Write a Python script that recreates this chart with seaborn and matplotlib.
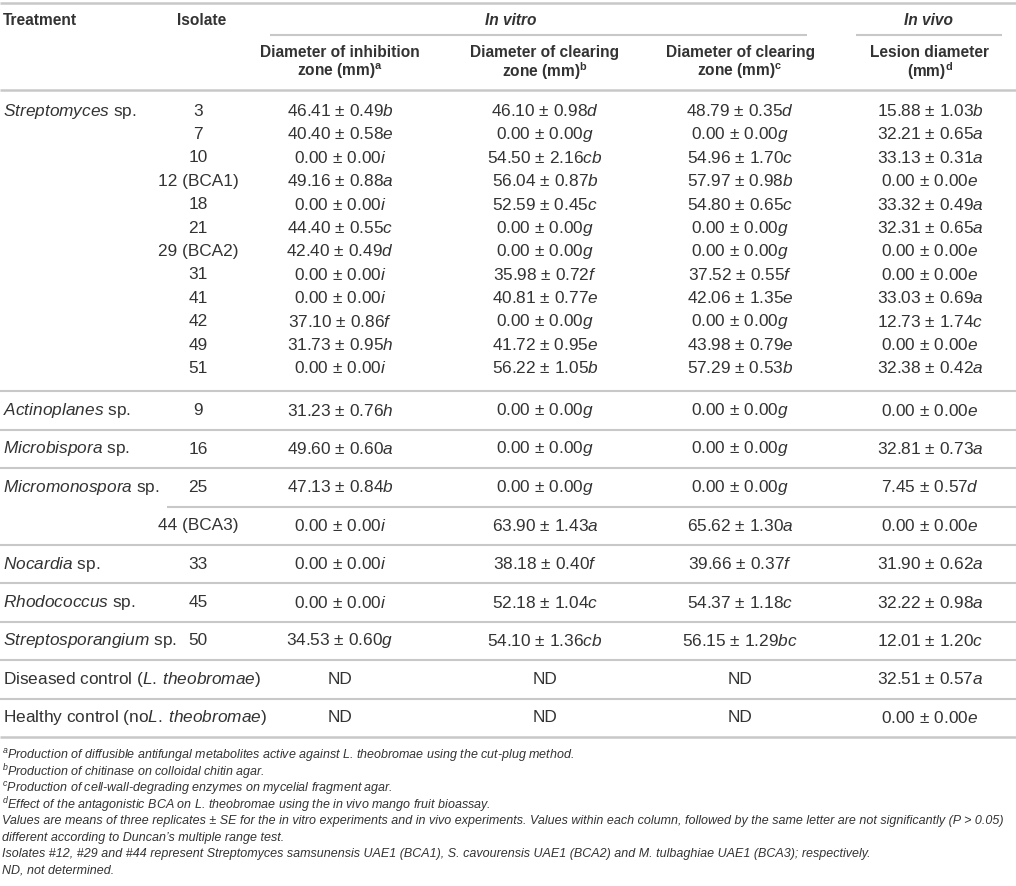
import matplotlib
matplotlib.use("Agg")
import matplotlib.pyplot as plt
import seaborn as sns

sns.set_theme(style="white")
plt.rcParams['font.family'] = ['Liberation Sans', 'DejaVu Sans']
plt.rcParams['mathtext.fontset'] = 'custom'
plt.rcParams['mathtext.rm'] = 'Liberation Sans'
plt.rcParams['mathtext.it'] = 'Liberation Sans:italic'
plt.rcParams['mathtext.bf'] = 'Liberation Sans:bold'

# ---------------- data ----------------
genera = ["Streptomyces", "Actinoplanes", "Microbispora", "Micromonospora",
          "Nocardia", "Rhodococcus", "Streptosporangium"]
genus_isolates = [
    ["3", "7", "10", "12 (BCA1)", "18", "21", "29 (BCA2)", "31", "41", "42", "49", "51"],
    ["9"], ["16"], ["25", "44 (BCA3)"], ["33"], ["45"], ["50"],
]
controls = ["Diseased control (L. theobromae)", "Healthy control (noL. theobromae)"]

inhib_mean = [46.41, 40.40, 0.00, 49.16, 0.00, 44.40, 42.40, 0.00, 0.00, 37.10, 31.73, 0.00,
              31.23, 49.60, 47.13, 0.00, 0.00, 0.00, 34.53, None, None]
inhib_se = [0.49, 0.58, 0.00, 0.88, 0.00, 0.55, 0.49, 0.00, 0.00, 0.86, 0.95, 0.00,
            0.76, 0.60, 0.84, 0.00, 0.00, 0.00, 0.60, None, None]
inhib_letter = ["b", "e", "i", "a", "i", "c", "d", "i", "i", "f", "h", "i",
                "h", "a", "b", "i", "i", "i", "g", None, None]

chit_mean = [46.10, 0.00, 54.50, 56.04, 52.59, 0.00, 0.00, 35.98, 40.81, 0.00, 41.72, 56.22,
             0.00, 0.00, 0.00, 63.90, 38.18, 52.18, 54.10, None, None]
chit_se = [0.98, 0.00, 2.16, 0.87, 0.45, 0.00, 0.00, 0.72, 0.77, 0.00, 0.95, 1.05,
           0.00, 0.00, 0.00, 1.43, 0.40, 1.04, 1.36, None, None]
chit_letter = ["d", "g", "cb", "b", "c", "g", "g", "f", "e", "g", "e", "b",
               "g", "g", "g", "a", "f", "c", "cb", None, None]

cwde_mean = [48.79, 0.00, 54.96, 57.97, 54.80, 0.00, 0.00, 37.52, 42.06, 0.00, 43.98, 57.29,
             0.00, 0.00, 0.00, 65.62, 39.66, 54.37, 56.15, None, None]
cwde_se = [0.35, 0.00, 1.70, 0.98, 0.65, 0.00, 0.00, 0.55, 1.35, 0.00, 0.79, 0.53,
           0.00, 0.00, 0.00, 1.30, 0.37, 1.18, 1.29, None, None]
cwde_letter = ["d", "g", "c", "b", "c", "g", "g", "f", "e", "g", "e", "b",
               "g", "g", "g", "a", "f", "c", "bc", None, None]

lesion_mean = [15.88, 32.21, 33.13, 0.00, 33.32, 32.31, 0.00, 0.00, 33.03, 12.73, 0.00, 32.38,
               0.00, 32.81, 7.45, 0.00, 31.90, 32.22, 12.01, 32.51, 0.00]
lesion_se = [1.03, 0.65, 0.31, 0.00, 0.49, 0.65, 0.00, 0.00, 0.69, 1.74, 0.00, 0.42,
             0.00, 0.73, 0.57, 0.00, 0.62, 0.98, 1.20, 0.57, 0.00]
lesion_letter = ["b", "a", "a", "e", "a", "a", "e", "e", "a", "c", "e", "a",
                 "e", "a", "d", "e", "a", "a", "c", "a", "e"]

col_headers = [
    ["Diameter of inhibition", "zone (mm)", "a"],
    ["Diameter of clearing", "zone (mm)", "b"],
    ["Diameter of clearing", "zone (mm)", "c"],
    ["Lesion diameter", "(mm)", "d"],
]

footnotes = [
    ("a", "Production of diffusible antifungal metabolites active against L. theobromae using the cut-plug method."),
    ("b", "Production of chitinase on colloidal chitin agar."),
    ("c", "Production of cell-wall-degrading enzymes on mycelial fragment agar."),
    ("d", "Effect of the antagonistic BCA on L. theobromae using the in vivo mango fruit bioassay."),
    ("", "Values are means of three replicates \u00b1 SE for the in vitro experiments and in vivo experiments. Values within each column, followed by the same letter are not significantly (P > 0.05)"),
    ("", "different according to Duncan\u2019s multiple range test."),
    ("", "Isolates #12, #29 and #44 represent Streptomyces samsunensis UAE1 (BCA1), S. cavourensis UAE1 (BCA2) and M. tulbaghiae UAE1 (BCA3); respectively."),
    ("", "ND, not determined."),
]

# ---------------- layout ----------------
W, H = 1016, 886
TXT = "#333333"
RULE = "#c8c8c8"
FS = 12.4
FS_HEAD = 11.2
FS_FOOT = 9.0

x_treat = 3
x_iso = 198
x_cols = [340, 545, 740, 930]
x_invitro = 511
x_invivo = 928

y_top = 3
y_h1 = 20
y_sub = 35
y_h2a, y_h2b = 52, 71
y_hbot = 90
compact_pitch = 23.4
first_pad = 21
group_pitch = 38.4
foot_start = 756
foot_pitch = 16.3

fig = plt.figure(figsize=(W / 100, H / 100), dpi=100)
ax = fig.add_axes([0, 0, 1, 1])
ax.set_xlim(0, W)
ax.set_ylim(H, 0)
ax.axis("off")


def rule(y, x0=0, x1=W, lw=1.5):
    ax.hlines(y, x0, x1, colors=RULE, linewidth=lw)


def cell(mean, se, letter):
    if mean is None:
        return "ND"
    return f"{mean:.2f} \u00b1 {se:.2f}" + r"$\mathit{" + letter + "}$"


# header
rule(y_top, lw=1.8)
ax.text(x_treat, y_h1, "Treatment", fontsize=FS_HEAD, fontweight="bold", color=TXT, va="center", ha="left")
ax.text(x_iso + 4, y_h1, "Isolate", fontsize=FS_HEAD, fontweight="bold", color=TXT, va="center", ha="center")
ax.text(x_invitro, y_h1, "In vitro", fontsize=FS_HEAD, fontweight="bold", style="italic", color=TXT, va="center", ha="center")
ax.text(x_invivo, y_h1, "In vivo", fontsize=FS_HEAD, fontweight="bold", style="italic", color=TXT, va="center", ha="center")
rule(y_sub, 270, 807)
rule(y_sub, 856, 1002)
for xc, (l1, l2, sup) in zip(x_cols, col_headers):
    ax.text(xc, y_h2a, l1, fontsize=FS_HEAD, fontweight="bold", color=TXT, va="center", ha="center")
    ax.text(xc, y_h2b, l2 + r"$^{\mathbf{" + sup + "}}$", fontsize=FS_HEAD, fontweight="bold",
            color=TXT, va="center", ha="center")
rule(y_hbot, lw=1.8)

# body
columns = [(inhib_mean, inhib_se, inhib_letter), (chit_mean, chit_se, chit_letter),
           (cwde_mean, cwde_se, cwde_letter), (lesion_mean, lesion_se, lesion_letter)]


def draw_values(idx, y):
    for xc, (m, s, l) in zip(x_cols, columns):
        ax.text(xc, y, cell(m[idx], s[idx], l[idx]), fontsize=FS, color=TXT, va="center", ha="center")


def italic_words(name):
    return r"$\mathit{" + name.replace(" ", r"}\:\mathit{") + "}$"


idx = 0
y_line = y_hbot
for gi, (genus, isos) in enumerate(zip(genera, genus_isolates)):
    if len(isos) > 2:  # compact group without inner rules
        for k, iso in enumerate(isos):
            y = y_line + first_pad + k * compact_pitch
            if k == 0:
                ax.text(x_treat, y, italic_words(genus) + " sp.", fontsize=FS, color=TXT, va="center", ha="left")
            ax.text(x_iso, y, iso, fontsize=FS, color=TXT, va="center", ha="center")
            draw_values(idx, y)
            idx += 1
        y_line = y + 23
        rule(y_line)
    else:
        for k, iso in enumerate(isos):
            y = y_line + group_pitch / 2
            if k == 0:
                ax.text(x_treat, y, italic_words(genus) + " sp.", fontsize=FS, color=TXT, va="center", ha="left")
            ax.text(x_iso, y, iso, fontsize=FS, color=TXT, va="center", ha="center")
            draw_values(idx, y)
            idx += 1
            y_line += group_pitch
            if k < len(isos) - 1:
                rule(y_line, 167, W)
            else:
                rule(y_line)

for ci, ctrl in enumerate(controls):
    y = y_line + group_pitch / 2
    pre, rest = ctrl.split("(")
    name = rest.rstrip(")")
    if name.startswith("no"):
        label = pre + "(no" + italic_words(name[2:]) + ")"
    else:
        label = pre + "(" + italic_words(name) + ")"
    ax.text(x_treat, y, label, fontsize=FS, color=TXT, va="center", ha="left")
    draw_values(idx, y)
    idx += 1
    y_line += group_pitch
    rule(y_line, lw=1.8 if ci == len(controls) - 1 else 1.5)

# footnotes
for k, (sup, txt) in enumerate(footnotes):
    s = (r"$^{" + sup + "}$" if sup else "") + txt
    ax.text(2, foot_start + k * foot_pitch, s, fontsize=FS_FOOT, style="italic",
            color=TXT, va="center", ha="left")

fig.savefig("out.png", dpi=100)
